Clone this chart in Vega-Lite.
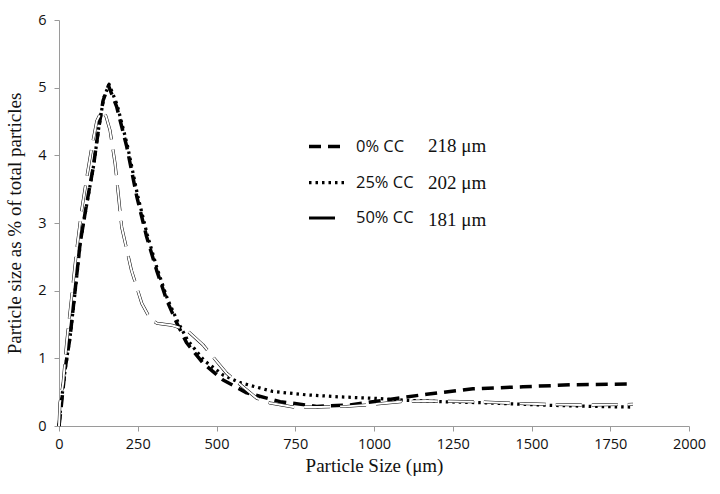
{
  "$schema": "https://vega.github.io/schema/vega-lite/v6.json",
  "autosize": {"type": "none"},
  "width": 630,
  "height": 406,
  "padding": {"left": 59, "top": 20, "right": 31, "bottom": 68},
  "background": "white",
  "config": {
    "view": {"stroke": null},
    "axis": {
      "domainColor": "#9a9a9a",
      "tickColor": "#9a9a9a",
      "tickSize": 5,
      "grid": false,
      "labelFont": "Open Sans",
      "labelFontSize": 14.5,
      "labelColor": "#111",
      "titleFont": "Liberation Serif",
      "titleFontSize": 19,
      "titleFontWeight": "normal",
      "titleColor": "#111"
    }
  },
  "data": {
    "values": [
      {"series": "0% CC", "mean": "218 μm", "x": 0, "y": 0},
      {"series": "0% CC", "mean": "218 μm", "x": 6, "y": 0.24},
      {"series": "0% CC", "mean": "218 μm", "x": 19, "y": 0.83},
      {"series": "0% CC", "mean": "218 μm", "x": 35, "y": 1.31},
      {"series": "0% CC", "mean": "218 μm", "x": 51, "y": 2.0},
      {"series": "0% CC", "mean": "218 μm", "x": 67, "y": 2.7},
      {"series": "0% CC", "mean": "218 μm", "x": 88, "y": 3.29},
      {"series": "0% CC", "mean": "218 μm", "x": 109, "y": 3.83},
      {"series": "0% CC", "mean": "218 μm", "x": 125, "y": 4.37},
      {"series": "0% CC", "mean": "218 μm", "x": 140, "y": 4.81},
      {"series": "0% CC", "mean": "218 μm", "x": 157, "y": 5.03},
      {"series": "0% CC", "mean": "218 μm", "x": 183, "y": 4.72},
      {"series": "0% CC", "mean": "218 μm", "x": 215, "y": 4.13},
      {"series": "0% CC", "mean": "218 μm", "x": 247, "y": 3.39},
      {"series": "0% CC", "mean": "218 μm", "x": 278, "y": 2.8},
      {"series": "0% CC", "mean": "218 μm", "x": 310, "y": 2.3},
      {"series": "0% CC", "mean": "218 μm", "x": 342, "y": 1.86},
      {"series": "0% CC", "mean": "218 μm", "x": 374, "y": 1.52},
      {"series": "0% CC", "mean": "218 μm", "x": 405, "y": 1.23},
      {"series": "0% CC", "mean": "218 μm", "x": 457, "y": 0.93},
      {"series": "0% CC", "mean": "218 μm", "x": 521, "y": 0.68},
      {"series": "0% CC", "mean": "218 μm", "x": 596, "y": 0.49},
      {"series": "0% CC", "mean": "218 μm", "x": 702, "y": 0.36},
      {"series": "0% CC", "mean": "218 μm", "x": 818, "y": 0.29},
      {"series": "0% CC", "mean": "218 μm", "x": 924, "y": 0.31},
      {"series": "0% CC", "mean": "218 μm", "x": 1029, "y": 0.38},
      {"series": "0% CC", "mean": "218 μm", "x": 1167, "y": 0.47},
      {"series": "0% CC", "mean": "218 μm", "x": 1314, "y": 0.55},
      {"series": "0% CC", "mean": "218 μm", "x": 1473, "y": 0.58},
      {"series": "0% CC", "mean": "218 μm", "x": 1632, "y": 0.61},
      {"series": "0% CC", "mean": "218 μm", "x": 1813, "y": 0.62},

      {"series": "25% CC", "mean": "202 μm", "x": 0, "y": 0},
      {"series": "25% CC", "mean": "202 μm", "x": 5, "y": 0.26},
      {"series": "25% CC", "mean": "202 μm", "x": 20, "y": 0.85},
      {"series": "25% CC", "mean": "202 μm", "x": 36, "y": 1.35},
      {"series": "25% CC", "mean": "202 μm", "x": 52, "y": 2.02},
      {"series": "25% CC", "mean": "202 μm", "x": 68, "y": 2.72},
      {"series": "25% CC", "mean": "202 μm", "x": 89, "y": 3.3},
      {"series": "25% CC", "mean": "202 μm", "x": 110, "y": 3.85},
      {"series": "25% CC", "mean": "202 μm", "x": 126, "y": 4.4},
      {"series": "25% CC", "mean": "202 μm", "x": 142, "y": 4.85},
      {"series": "25% CC", "mean": "202 μm", "x": 159, "y": 5.05},
      {"series": "25% CC", "mean": "202 μm", "x": 185, "y": 4.74},
      {"series": "25% CC", "mean": "202 μm", "x": 217, "y": 4.15},
      {"series": "25% CC", "mean": "202 μm", "x": 249, "y": 3.42},
      {"series": "25% CC", "mean": "202 μm", "x": 280, "y": 2.83},
      {"series": "25% CC", "mean": "202 μm", "x": 312, "y": 2.32},
      {"series": "25% CC", "mean": "202 μm", "x": 344, "y": 1.88},
      {"series": "25% CC", "mean": "202 μm", "x": 376, "y": 1.55},
      {"series": "25% CC", "mean": "202 μm", "x": 408, "y": 1.27},
      {"series": "25% CC", "mean": "202 μm", "x": 460, "y": 0.97},
      {"series": "25% CC", "mean": "202 μm", "x": 522, "y": 0.75},
      {"series": "25% CC", "mean": "202 μm", "x": 575, "y": 0.64},
      {"series": "25% CC", "mean": "202 μm", "x": 679, "y": 0.51},
      {"series": "25% CC", "mean": "202 μm", "x": 786, "y": 0.46},
      {"series": "25% CC", "mean": "202 μm", "x": 892, "y": 0.43},
      {"series": "25% CC", "mean": "202 μm", "x": 997, "y": 0.41},
      {"series": "25% CC", "mean": "202 μm", "x": 1104, "y": 0.38},
      {"series": "25% CC", "mean": "202 μm", "x": 1210, "y": 0.36},
      {"series": "25% CC", "mean": "202 μm", "x": 1368, "y": 0.34},
      {"series": "25% CC", "mean": "202 μm", "x": 1527, "y": 0.31},
      {"series": "25% CC", "mean": "202 μm", "x": 1686, "y": 0.29},
      {"series": "25% CC", "mean": "202 μm", "x": 1822, "y": 0.28},

      {"series": "50% CC", "mean": "181 μm", "x": 0, "y": 0},
      {"series": "50% CC", "mean": "181 μm", "x": 3, "y": 0.34},
      {"series": "50% CC", "mean": "181 μm", "x": 13, "y": 0.63},
      {"series": "50% CC", "mean": "181 μm", "x": 24, "y": 1.22},
      {"series": "50% CC", "mean": "181 μm", "x": 40, "y": 1.9},
      {"series": "50% CC", "mean": "181 μm", "x": 56, "y": 2.6},
      {"series": "50% CC", "mean": "181 μm", "x": 72, "y": 3.19},
      {"series": "50% CC", "mean": "181 μm", "x": 88, "y": 3.67},
      {"series": "50% CC", "mean": "181 μm", "x": 104, "y": 4.12},
      {"series": "50% CC", "mean": "181 μm", "x": 120, "y": 4.51},
      {"series": "50% CC", "mean": "181 μm", "x": 136, "y": 4.66},
      {"series": "50% CC", "mean": "181 μm", "x": 149, "y": 4.58},
      {"series": "50% CC", "mean": "181 μm", "x": 162, "y": 4.37},
      {"series": "50% CC", "mean": "181 μm", "x": 178, "y": 3.88},
      {"series": "50% CC", "mean": "181 μm", "x": 188, "y": 3.44},
      {"series": "50% CC", "mean": "181 μm", "x": 199, "y": 2.94},
      {"series": "50% CC", "mean": "181 μm", "x": 230, "y": 2.3},
      {"series": "50% CC", "mean": "181 μm", "x": 263, "y": 1.81},
      {"series": "50% CC", "mean": "181 μm", "x": 289, "y": 1.59},
      {"series": "50% CC", "mean": "181 μm", "x": 310, "y": 1.52},
      {"series": "50% CC", "mean": "181 μm", "x": 358, "y": 1.49},
      {"series": "50% CC", "mean": "181 μm", "x": 405, "y": 1.42},
      {"series": "50% CC", "mean": "181 μm", "x": 457, "y": 1.2},
      {"series": "50% CC", "mean": "181 μm", "x": 532, "y": 0.78},
      {"series": "50% CC", "mean": "181 μm", "x": 628, "y": 0.41},
      {"series": "50% CC", "mean": "181 μm", "x": 670, "y": 0.34},
      {"series": "50% CC", "mean": "181 μm", "x": 743, "y": 0.28},
      {"series": "50% CC", "mean": "181 μm", "x": 829, "y": 0.28},
      {"series": "50% CC", "mean": "181 μm", "x": 913, "y": 0.29},
      {"series": "50% CC", "mean": "181 μm", "x": 997, "y": 0.32},
      {"series": "50% CC", "mean": "181 μm", "x": 1083, "y": 0.36},
      {"series": "50% CC", "mean": "181 μm", "x": 1167, "y": 0.37},
      {"series": "50% CC", "mean": "181 μm", "x": 1314, "y": 0.36},
      {"series": "50% CC", "mean": "181 μm", "x": 1421, "y": 0.34},
      {"series": "50% CC", "mean": "181 μm", "x": 1548, "y": 0.32},
      {"series": "50% CC", "mean": "181 μm", "x": 1675, "y": 0.31},
      {"series": "50% CC", "mean": "181 μm", "x": 1822, "y": 0.32}
    ]
  },
  "encoding": {
    "x": {
      "field": "x", "type": "quantitative",
      "scale": {"domain": [0, 2000], "nice": false},
      "axis": {"values": [0, 250, 500, 750, 1000, 1250, 1500, 1750, 2000], "format": "d", "title": "Particle Size (μm)", "labelPadding": 6, "titlePadding": 6, "labelFlush": false}
    },
    "y": {
      "field": "y", "type": "quantitative",
      "scale": {"domain": [0, 6], "nice": false},
      "axis": {"values": [0, 1, 2, 3, 4, 5, 6], "title": "Particle size as % of total particles", "labelPadding": 8, "titlePadding": 13}
    }
  },
  "layer": [
    {
      "mark": {"type": "line", "strokeCap": "butt", "strokeJoin": "round"},
      "encoding": {
        "detail": {"field": "series"},
        "color": {
          "field": "mean", "type": "nominal",
          "scale": {"domain": ["218 μm", "202 μm", "181 μm"], "range": ["#000000", "#000000", "#000000"]},
          "legend": {
            "orient": "none", "legendX": 332, "legendY": 107, "title": null,
            "padding": 0, "rowPadding": 8, "symbolType": "stroke", "symbolSize": 1225,
            "symbolOpacity": 0, "labelOffset": 0,
            "labelFont": "Liberation Serif", "labelFontSize": 19, "labelColor": "#111"
          }
        },
        "strokeDash": {
          "field": "series", "type": "nominal",
          "scale": {"domain": ["0% CC", "25% CC", "50% CC"], "range": [[12, 7], [2.5, 4], [26, 10]]},
          "legend": {
            "orient": "none", "legendX": 248, "legendY": 107, "title": null,
            "padding": 0, "rowPadding": 8, "symbolType": "stroke", "symbolSize": 1225,
            "symbolStrokeWidth": 3.5, "symbolStrokeColor": "#000000", "labelOffset": 10,
            "labelFont": "Open Sans", "labelFontSize": 16.5, "labelColor": "#111"
          }
        },
        "strokeWidth": {
          "field": "series", "type": "nominal",
          "scale": {"domain": ["0% CC", "25% CC", "50% CC"], "range": [3.5, 3, 4.5]},
          "legend": null
        }
      }
    },
    {
      "transform": [{"filter": "datum.series == '50% CC'"}],
      "mark": {"type": "line", "color": "white", "strokeWidth": 2, "strokeDash": [26, 10], "strokeCap": "butt", "strokeJoin": "round"},
      "encoding": {}
    }
  ]
}
